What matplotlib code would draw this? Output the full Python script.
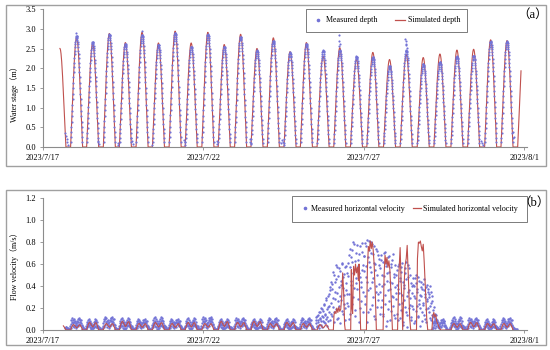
import numpy as np
import matplotlib
matplotlib.use('Agg')
import matplotlib.pyplot as plt
from matplotlib.lines import Line2D
from matplotlib.patches import Rectangle

plt.rcParams['font.family'] = ['Liberation Serif', 'Noto Sans CJK SC']

# 日付目盛り (2023/7/17 0:00 からの日数)
tick_days = [0, 5, 10, 15]
tick_labels = ['2023/7/17', '2023/7/22', '2023/7/27', '2023/8/1']

# 各潮のピーク時刻 (日)
peak_day = [0.53, 1.05, 1.55, 2.07, 2.57, 3.09, 3.60, 4.12, 4.62, 5.14, 5.65,
            6.16, 6.67, 7.18, 7.70, 8.21, 8.73, 9.25, 9.77, 10.28, 10.80,
            11.32, 11.85, 12.37, 12.90, 13.42, 13.95, 14.46, 14.98]
# 計算水深のピーク (m)
sim_peak = [2.50, 2.78, 2.63, 2.88, 2.65, 2.91, 2.64, 2.94, 2.64, 2.91, 2.60,
            2.86, 2.50, 2.77, 2.42, 2.65, 2.31, 2.52, 2.23, 2.40, 2.22,
            2.35, 2.27, 2.36, 2.46, 2.48, 2.72, 2.70, 2.70]
# 実測水深のピーク (m)
meas_peak = [0, 2.82, 2.66, 2.86, 2.62, 2.85, 2.60, 2.90, 2.55, 2.86, 2.55,
             2.80, 2.45, 2.70, 2.40, 2.62, 2.45, 2.45, 2.30, 2.28, 2.05,
             2.45, 2.10, 2.15, 2.30, 2.32, 2.68, 2.68, 0]
end_cut = 1.85

# 1 潮の水深波形 (ピークからの 10 分毎, ピーク比)
arch_half = [1.0, 0.998, 0.991, 0.981, 0.966, 0.947, 0.924, 0.898, 0.868,
             0.834, 0.798, 0.758, 0.716, 0.672, 0.626, 0.578, 0.529, 0.479,
             0.428, 0.377, 0.326, 0.276, 0.227, 0.179, 0.132, 0.087, 0.045, 0.0]

# 干出時の実測水深
trough_day = [0.70, 0.72, 0.74, 0.76, 0.78, 1.72, 1.74, 2.33, 2.35, 2.76,
              2.78, 2.80, 3.39, 4.40, 4.42, 4.44, 5.42, 5.44, 6.44, 6.46,
              6.48, 7.42, 7.45, 7.48, 7.52, 13.66, 13.68, 13.70, 14.66, 14.68]
trough_val = [0.35, 0.28, 0.20, 0.12, 0.06, 0.15, 0.08, 0.10, 0.05, 0.22,
              0.14, 0.08, 0.05, 0.18, 0.12, 0.06, 0.14, 0.08, 0.20, 0.13,
              0.07, 0.10, 0.18, 0.12, 0.06, 0.14, 0.09, 0.05, 0.38, 0.25]
# ピーク付近の外れ値
extra_day = [9.23, 9.24, 9.26, 9.22, 11.29, 11.30, 11.31, 11.32, 11.33, 3.10, 1.04]
extra_val = [2.84, 2.70, 2.62, 2.56, 2.75, 2.68, 2.62, 2.58, 2.52, 2.95, 2.90]

# 流速: 静穏期の計算値ピーク (m/s), 0 は大流速期
vel_sim_peak = [0.04, 0.05, 0.07, 0.06, 0.08, 0.06, 0.07, 0.06, 0.07, 0.06,
                0.08, 0.07, 0.08, 0.06, 0.07, 0.06, 0.05, 0, 0, 0, 0, 0, 0,
                0, 0.06, 0.07, 0.06, 0.06, 0]
hump_hours = [-4.5, -3.8, -3.0, -2.2, -1.4, -0.6, 0.2, 1.0, 1.8, 2.6, 3.4, 4.2, 4.5]
hump_shape = [0, 0.45, 0.85, 1.0, 0.8, 0.55, 0.4, 0.6, 0.9, 0.95, 0.6, 0.2, 0]

# 大流速期の計算流速
burst_day = [9.05, 9.07, 9.10, 9.13, 9.16, 9.19, 9.22, 9.25, 9.28, 9.31, 9.34, 9.37, 9.40, 9.42,
             9.59, 9.61, 9.63, 9.65, 9.68, 9.71, 9.74, 9.77, 9.80, 9.83, 9.85, 9.88, 9.90,
             10.08, 10.11, 10.14, 10.17, 10.20, 10.23, 10.26, 10.29, 10.32, 10.36, 10.39,
             10.60, 10.63, 10.66, 10.69, 10.72, 10.75, 10.78, 10.81, 10.85, 10.89,
             11.05, 11.09, 11.13, 11.16, 11.19, 11.21, 11.24, 11.28, 11.32, 11.35, 11.39, 11.43, 11.46,
             11.64, 11.67, 11.70, 11.73, 11.76, 11.79, 11.82, 11.85, 11.88, 11.92, 11.96, 11.99,
             12.12, 12.15, 12.18, 12.21, 12.24, 12.27, 12.31, 12.35, 12.40]
burst_vel = [0, 0.14, 0.17, 0.15, 0.20, 0.16, 0.21, 0.17, 0.19, 0.30, 0.52, 0.35, 0.05, 0,
             0, 0.55, 0.20, 0.15, 0.58, 0.50, 0.60, 0.52, 0.57, 0.45, 0.60, 0.20, 0,
             0, 0.55, 0.76, 0.72, 0.81, 0.74, 0.80, 0.73, 0.60, 0.30, 0,
             0, 0.50, 0.68, 0.60, 0.66, 0.57, 0.63, 0.55, 0.30, 0,
             0, 0.50, 0.75, 0.45, 0.20, 0, 0.30, 0.58, 0.65, 0.77, 0.45, 0.10, 0,
             0, 0.65, 0.80, 0.79, 0.81, 0.76, 0.72, 0.78, 0.62, 0.35, 0.10, 0,
             0, 0.13, 0.16, 0.12, 0.14, 0.08, 0.05, 0.02, 0]

# 流速: 静穏期の実測値 (1 潮分の散らばり, ピーク比) と潮毎の倍率
vel_meas_scale = [0.10, 0.11, 0.10, 0.12, 0.11, 0.10, 0.12, 0.10, 0.11, 0.12,
                  0.10, 0.11, 0.10, 0.11, 0.10, 0.11, 0, 0, 0, 0, 0, 0, 0,
                  0.10, 0.12, 0.11, 0.10, 0.11, 0.10]
blob_hours = [-6.0, -5.5, -5.0, -4.6, -4.2, -3.9, -3.5, -3.2, -2.8, -2.5, -2.1,
              -1.8, -1.4, -1.1, -0.7, -0.4, 0.0, 0.3, 0.7, 1.0, 1.4, 1.7, 2.1,
              2.4, 2.8, 3.1, 3.5, 3.8, 4.2, 4.6, 5.0, 5.5, 6.0,
              -5.2, -4.4, -3.7, -3.0, -2.3, -1.6, -0.9, -0.2, 0.5, 1.2, 1.9,
              2.6, 3.3, 4.0, 4.8, 5.8]
blob_shape = [0.05, 0.10, 0.20, 0.35, 0.55, 0.75, 0.60, 0.90, 0.70, 1.00, 0.55,
              0.80, 0.45, 0.65, 0.30, 0.50, 0.20, 0.45, 0.70, 0.55, 0.85, 0.65,
              1.00, 0.75, 0.90, 0.50, 0.70, 0.40, 0.30, 0.20, 0.15, 0.08, 0.05,
              0.10, 0.25, 0.35, 0.45, 0.30, 0.20, 0.10, 0.05, 0.15, 0.30, 0.40,
              0.30, 0.25, 0.15, 0.30, 0.20]
blob2_hours = [-5.8, -5.3, -4.9, -4.5, -4.1, -3.7, -3.3, -3.0, -2.6, -2.2,
               -1.9, -1.5, -1.2, -0.8, -0.5, -0.1, 0.2, 0.6, 0.9, 1.3,
               1.6, 2.0, 2.3, 2.7, 3.0, 3.4, 3.7, 4.1, 4.5, 4.9, 5.3, 5.8,
               -4.0, -2.9, -1.7, -0.6, 0.7, 1.8, 2.9, 4.3]
blob2_shape = [0.08, 0.15, 0.30, 0.50, 0.80, 0.65, 1.00, 0.85, 0.60, 0.90,
               0.70, 0.45, 0.75, 0.55, 0.35, 0.60, 0.40, 0.75, 0.95, 0.65,
               0.90, 1.00, 0.70, 0.85, 0.60, 0.80, 0.45, 0.35, 0.25, 0.15, 0.10, 0.05,
               0.20, 0.35, 0.25, 0.15, 0.30, 0.50, 0.40, 0.10]

# 大流速期の実測流速 (8.5 日から 30 分毎, B は 15 分ずらし)
burst_start = 8.5
burst_meas_a = [
    0.06, 0.12, 0.03, 0.09, 0.14, 0.05, 0.11, 0.16, 0.08, 0.03, 0.19, 0.12,
    0.07, 0.23, 0.15, 0.10, 0.27, 0.04, 0.21, 0.31, 0.16, 0.09, 0.36, 0.25,
    0.13, 0.42, 0.29, 0.07, 0.50, 0.35, 0.19, 0.46, 0.57, 0.26, 0.11, 0.39,
    0.54, 0.31, 0.45, 0.17, 0.60, 0.38, 0.24, 0.51, 0.09, 0.43, 0.58, 0.33,
    0.49, 0.22, 0.68, 0.57, 0.15, 0.41, 0.73, 0.62, 0.30, 0.55, 0.78, 0.18,
    0.47, 0.70, 0.37, 0.64, 0.07, 0.52, 0.76, 0.44, 0.26, 0.71, 0.59, 0.35,
    0.67, 0.79, 0.31, 0.58, 0.82, 0.44, 0.16, 0.73, 0.62, 0.38, 0.80, 0.53,
    0.23, 0.69, 0.47, 0.76, 0.10, 0.60, 0.35, 0.72, 0.50, 0.27, 0.65, 0.42,
    0.56, 0.21, 0.68, 0.40, 0.62, 0.13, 0.49, 0.71, 0.32, 0.58, 0.08, 0.45,
    0.66, 0.26, 0.53, 0.37, 0.60, 0.17, 0.43, 0.69, 0.30, 0.51, 0.11, 0.39,
    0.28, 0.55, 0.41, 0.09, 0.60, 0.34, 0.47, 0.18, 0.57, 0.25, 0.44, 0.05,
    0.38, 0.52, 0.21, 0.62, 0.31, 0.14, 0.48, 0.36, 0.56, 0.23, 0.43, 0.12,
    0.34, 0.47, 0.19, 0.40, 0.08, 0.29, 0.50, 0.22, 0.37, 0.13, 0.45, 0.27,
    0.04, 0.39, 0.31, 0.16, 0.42, 0.25, 0.36, 0.10, 0.33, 0.19, 0.41, 0.28,
    0.37, 0.16, 0.30, 0.22, 0.35, 0.09, 0.26, 0.18, 0.13, 0.07, 0.15, 0.10]
burst_meas_b = [
    0.09, 0.04, 0.13, 0.07, 0.02, 0.16, 0.10, 0.05, 0.20, 0.13, 0.08, 0.17,
    0.24, 0.06, 0.14, 0.29, 0.19, 0.12, 0.08, 0.33, 0.22, 0.39, 0.15, 0.44,
    0.37, 0.21, 0.53, 0.16, 0.44, 0.28, 0.59, 0.10, 0.34, 0.49, 0.22, 0.56,
    0.06, 0.41, 0.27, 0.61, 0.15, 0.48, 0.32, 0.57, 0.20, 0.36, 0.52, 0.25,
    0.61, 0.33, 0.10, 0.74, 0.45, 0.66, 0.24, 0.52, 0.80, 0.38, 0.13, 0.63,
    0.43, 0.77, 0.28, 0.58, 0.69, 0.20, 0.48, 0.39, 0.79, 0.55, 0.16, 0.67,
    0.54, 0.24, 0.76, 0.48, 0.07, 0.66, 0.36, 0.81, 0.57, 0.19, 0.70, 0.44,
    0.78, 0.30, 0.61, 0.13, 0.55, 0.74, 0.40, 0.21, 0.68, 0.33, 0.59, 0.15,
    0.35, 0.64, 0.27, 0.50, 0.15, 0.70, 0.42, 0.24, 0.61, 0.04, 0.52, 0.36,
    0.19, 0.67, 0.44, 0.09, 0.57, 0.31, 0.64, 0.22, 0.48, 0.14, 0.59, 0.34,
    0.50, 0.15, 0.37, 0.58, 0.24, 0.45, 0.11, 0.53, 0.32, 0.61, 0.07, 0.41,
    0.27, 0.56, 0.16, 0.46, 0.03, 0.35, 0.59, 0.20, 0.29, 0.50, 0.09, 0.40,
    0.22, 0.41, 0.06, 0.31, 0.47, 0.17, 0.43, 0.35, 0.12, 0.48, 0.24, 0.32,
    0.20, 0.44, 0.08, 0.37, 0.23, 0.46, 0.14, 0.30, 0.39, 0.07, 0.26, 0.35,
    0.20, 0.33, 0.11, 0.40, 0.25, 0.14, 0.31, 0.06, 0.21, 0.12, 0.08, 0.14]

line_c = '#c0504d'
dot_c = '#7373d6'
axis_c = '#8c8c8c'


def style(ax, ymax, step):
    ax.set_xlim(0, 15.08)
    ax.set_ylim(0, ymax)
    ax.set_yticks(np.arange(0, ymax + 0.001, step))
    ax.yaxis.set_major_formatter('{x:.1f}')
    ax.set_xticks(tick_days)
    ax.set_xticklabels(tick_labels)
    for s in ['top', 'right']:
        ax.spines[s].set_visible(False)
    for s in ['left', 'bottom']:
        ax.spines[s].set_color(axis_c)
        ax.spines[s].set_linewidth(0.8)
    ax.tick_params(labelsize=6, length=2.5, width=0.6, color=axis_c, pad=2.5)


fig = plt.figure(figsize=(5.5, 3.5), dpi=100)
ax1 = fig.add_axes([0.078, 0.58, 0.88, 0.394])
ax2 = fig.add_axes([0.078, 0.057, 0.88, 0.377])

# 枠
fig.patches.append(Rectangle((0.011, 0.526), 0.982, 0.46, transform=fig.transFigure,
                             fill=False, ec='#a0a0a0', lw=1.0))
fig.patches.append(Rectangle((0.011, 0.014), 0.982, 0.443, transform=fig.transFigure,
                             fill=False, ec='#a0a0a0', lw=1.0))

# (a) 水位
arch_hours = np.arange(-27, 28) / 6.0
arch_shape = np.array(arch_half[::-1] + arch_half[1:])
last = len(peak_day) - 1
sim_t, sim_v, mt, mv = [], [], [], []
for i in range(len(peak_day)):
    t = peak_day[i] + arch_hours / 24.0
    v = sim_peak[i] * arch_shape
    if i == 0:
        keep = arch_hours >= 0
    elif i == last:
        keep = (arch_hours <= 0) & (v <= end_cut + 0.15)
    else:
        keep = np.ones(len(t), bool)
    sim_t.extend(t[keep])
    sim_v.extend(v[keep])
    if meas_peak[i] > 0:
        m = meas_peak[i] * arch_shape
        mt.extend(t[m > 0])
        mv.extend(m[m > 0])

ax1.plot(sim_t, sim_v, color=line_c, lw=0.8, zorder=2)
ax1.scatter(mt + trough_day + extra_day, mv + trough_val + extra_val,
            s=2.4, color=dot_c, lw=0, zorder=3)
style(ax1, 3.5, 0.5)
ax1.set_ylabel('Water stage（m）', fontsize=5.8)
ax1.yaxis.set_label_coords(-0.05, 0.4)

h1 = [Line2D([], [], ls='none', marker='o', ms=1.6, color=dot_c),
      Line2D([], [], color=line_c, lw=0.9)]
leg = ax1.legend(h1, ['Measured depth', 'Simulated depth'], ncol=2,
                 loc='upper left', bbox_to_anchor=(0.543, 1.0), fontsize=5.8,
                 fancybox=False, edgecolor='#404040', borderpad=0.9,
                 handlelength=1.2, handletextpad=0.4, columnspacing=2.2,
                 borderaxespad=0)
leg.get_frame().set_linewidth(0.6)

# (b) 流速
vt, vv = [], []
for i in range(len(peak_day)):
    if vel_sim_peak[i] > 0:
        vt.extend(peak_day[i] + np.array(hump_hours) / 24.0)
        vv.extend(vel_sim_peak[i] * np.array(hump_shape))
vt = np.array(vt + burst_day)
vv = np.array(vv + burst_vel)
order = np.argsort(vt)
vt, vv = vt[order], vv[order]
keep = (vt >= 0.62) & (vt <= 14.77)
vt, vv = vt[keep], vv[keep]

qt, qv = [], []
for i in range(len(peak_day)):
    if vel_meas_scale[i] > 0:
        if i % 2 == 0:
            hrs, shp = blob_hours, blob_shape
        else:
            hrs, shp = blob2_hours, blob2_shape
        qt.extend(peak_day[i] + np.array(hrs) / 24.0)
        qv.extend(vel_meas_scale[i] * np.array(shp))
qt = np.array(qt)
qv = np.array(qv)
keep = (qt >= 0.69) & (qt <= 14.77)
bt_a = burst_start + np.arange(len(burst_meas_a)) / 48.0
bt_b = burst_start + 1 / 96.0 + np.arange(len(burst_meas_b)) / 48.0

ax2.scatter(np.concatenate([qt[keep], bt_a, bt_b]),
            np.concatenate([qv[keep], burst_meas_a, burst_meas_b]),
            s=3, color=dot_c, lw=0, zorder=2)
ax2.plot(vt, vv, color=line_c, lw=0.8, zorder=3)
style(ax2, 1.2, 0.2)
ax2.set_ylabel('Flow velocity（m/s）', fontsize=5.8)
ax2.yaxis.set_label_coords(-0.05, 0.5)

h2 = [Line2D([], [], ls='none', marker='o', ms=1.6, color=dot_c),
      Line2D([], [], color=line_c, lw=0.9)]
leg2 = ax2.legend(h2, ['Measured horizontal velocity', 'Simulated horizontal velocity'],
                  ncol=2, loc='upper left', bbox_to_anchor=(0.514, 1.017), fontsize=5.8,
                  fancybox=False, edgecolor='#404040', borderpad=1.1,
                  handlelength=1.0, handletextpad=0.3, columnspacing=1.0,
                  borderaxespad=0)
leg2.get_frame().set_linewidth(0.6)

fig.text(533 / 550, 1 - 15 / 350, '（a）', fontsize=9, ha='center', va='center')
fig.text(534 / 550, 1 - 203 / 350, '（b）', fontsize=9, ha='center', va='center')

fig.savefig('out.png', dpi=100)
